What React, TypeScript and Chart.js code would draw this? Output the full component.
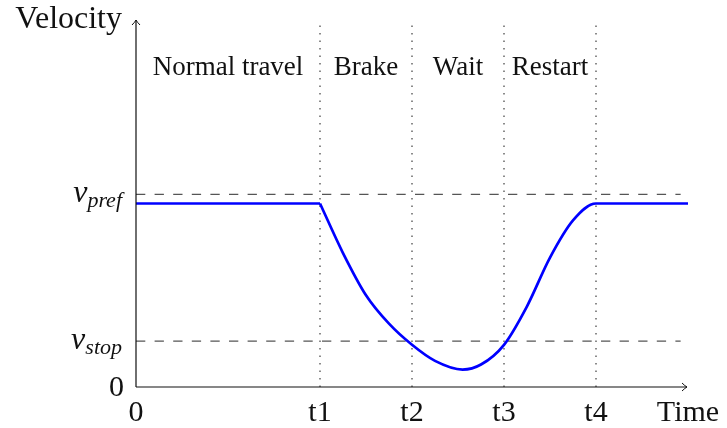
import React, { useEffect, useRef } from "react";
import { Chart, registerables } from "chart.js";

Chart.register(...registerables);

// ---- data ----
const xAxisMax = 6;
const yAxisMax = 4;
const phaseBounds = [0, 2, 3, 4, 5];
const phaseLabels = ["Normal travel", "Brake", "Wait", "Restart"];
const phaseLabelLevel = 3.4;
const xTickValues = [0, 2, 3, 4, 5];
const xTickLabels = ["0", "t1", "t2", "t3", "t4"];
const xAxisTitle = "Time";
const yAxisTitle = "Velocity";
const vPref = 2.1;
const vStop = 0.5;
const refLineEnd = 5.92;
const dividerTop = 3.98;

const cruiseTimes = [0, 2];
const cruiseValues = [2, 2];
const velocityTimes = [2, 2.25, 2.5, 2.75, 3.0, 3.25, 3.55, 3.75, 4.0, 4.25, 4.5, 4.75, 5, 6];
const velocityValues = [2, 1.46, 1.0, 0.69, 0.46, 0.285, 0.19, 0.245, 0.46, 0.88, 1.41, 1.815, 2, 2];

const SERIF = "'Liberation Serif', 'DejaVu Serif', serif";

export default function App() {
  const ref = useRef<HTMLCanvasElement | null>(null);

  useEffect(() => {
    if (!ref.current) return;
    const pts = (xs: number[], ys: number[]) => xs.map((v, i) => ({ x: v, y: ys[i] }));
    const blue = (d: any[]) => ({
      data: d,
      borderColor: "#0000ff",
      borderWidth: 2.7,
      pointRadius: 0,
      cubicInterpolationMode: "monotone",
      fill: false,
      clip: false,
    });

    const datasets: any[] = [
      blue(pts(velocityTimes, velocityValues)),
      blue(pts(cruiseTimes, cruiseValues)),
      {
        data: [{ x: 0, y: vPref }, { x: refLineEnd, y: vPref }],
        borderColor: "#555555",
        borderWidth: 1.4,
        borderDash: [9.3, 9.3],
        pointRadius: 0,
        fill: false,
      },
      {
        data: [{ x: 0, y: vStop }, { x: refLineEnd, y: vStop }],
        borderColor: "#555555",
        borderWidth: 1.4,
        borderDash: [9.3, 9.3],
        pointRadius: 0,
        fill: false,
      },
    ];
    phaseBounds.slice(1).forEach((b) => {
      datasets.push({
        data: [{ x: b, y: 0 }, { x: b, y: dividerTop }],
        borderColor: "#666666",
        borderWidth: 1.5,
        borderDash: [1.4, 6.1],
        pointRadius: 0,
        fill: false,
      });
    });

    const decor = {
      id: "decor",
      afterDraw(chart: any) {
        const { ctx, scales } = chart;
        const x = scales.x;
        const y = scales.y;
        const x0 = x.getPixelForValue(0);
        const y0 = y.getPixelForValue(0);
        const xEnd = x.getPixelForValue(xAxisMax) - 1;
        const yTop = y.getPixelForValue(yAxisMax);
        ctx.save();
        ctx.strokeStyle = "#111";
        ctx.lineWidth = 1.2;
        ctx.beginPath();
        ctx.moveTo(x0, y0);
        ctx.lineTo(xEnd, y0);
        ctx.moveTo(x0, y0);
        ctx.lineTo(x0, yTop);
        ctx.stroke();
        // arrowheads
        ctx.lineWidth = 1;
        ctx.beginPath();
        ctx.moveTo(xEnd - 5, y0 - 4);
        ctx.quadraticCurveTo(xEnd - 2, y0 - 1, xEnd, y0);
        ctx.quadraticCurveTo(xEnd - 2, y0 + 1, xEnd - 5, y0 + 4);
        ctx.moveTo(x0 - 4, yTop + 5);
        ctx.quadraticCurveTo(x0 - 1, yTop + 2, x0, yTop);
        ctx.quadraticCurveTo(x0 + 1, yTop + 2, x0 + 4, yTop + 5);
        ctx.stroke();

        ctx.fillStyle = "#111";
        ctx.textBaseline = "alphabetic";
        ctx.font = `30px ${SERIF}`;
        ctx.textAlign = "center";
        xTickValues.forEach((v, i) => {
          ctx.fillText(xTickLabels[i], x.getPixelForValue(v), y0 + 34);
        });
        ctx.fillText(xAxisTitle, x.getPixelForValue(xAxisMax), y0 + 34);

        ctx.textAlign = "right";
        ctx.fillText("0", x0 - 12, y0 + 9);
        ctx.font = `32px ${SERIF}`;
        ctx.fillText(yAxisTitle, x0 - 14, yTop + 8);

        const mathLabel = (sub: string, val: number) => {
          const py = y.getPixelForValue(val);
          ctx.font = `italic 22px ${SERIF}`;
          const sw = ctx.measureText(sub).width;
          const right = x0 - 14;
          ctx.textAlign = "right";
          ctx.fillText(sub, right, py + 13);
          ctx.font = `italic 32px ${SERIF}`;
          ctx.fillText("v", right - sw, py + 8);
        };
        mathLabel("pref", vPref);
        mathLabel("stop", vStop);

        ctx.font = `27px ${SERIF}`;
        ctx.textAlign = "center";
        const ly = y.getPixelForValue(phaseLabelLevel);
        phaseLabels.forEach((t, i) => {
          const cx = (x.getPixelForValue(phaseBounds[i]) + x.getPixelForValue(phaseBounds[i + 1])) / 2;
          ctx.fillText(t, cx, ly);
        });
        ctx.restore();
      },
    };

    const chart = new Chart(ref.current, {
      type: "line",
      data: { datasets },
      options: {
        animation: false,
        responsive: false,
        devicePixelRatio: 1,
        layout: { padding: { left: 136, right: 39, top: 20, bottom: 41 } },
        plugins: { legend: { display: false }, tooltip: { enabled: false } },
        events: [],
        scales: {
          x: { type: "linear", min: 0, max: xAxisMax, display: false },
          y: { type: "linear", min: 0, max: yAxisMax, display: false },
        },
      },
      plugins: [decor],
    });
    return () => chart.destroy();
  }, []);

  return (
    <div style={{ position: "fixed", left: 0, top: 0, width: 727, height: 428, background: "#fff" }}>
      <canvas ref={ref} width={727} height={428} />
    </div>
  );
}
